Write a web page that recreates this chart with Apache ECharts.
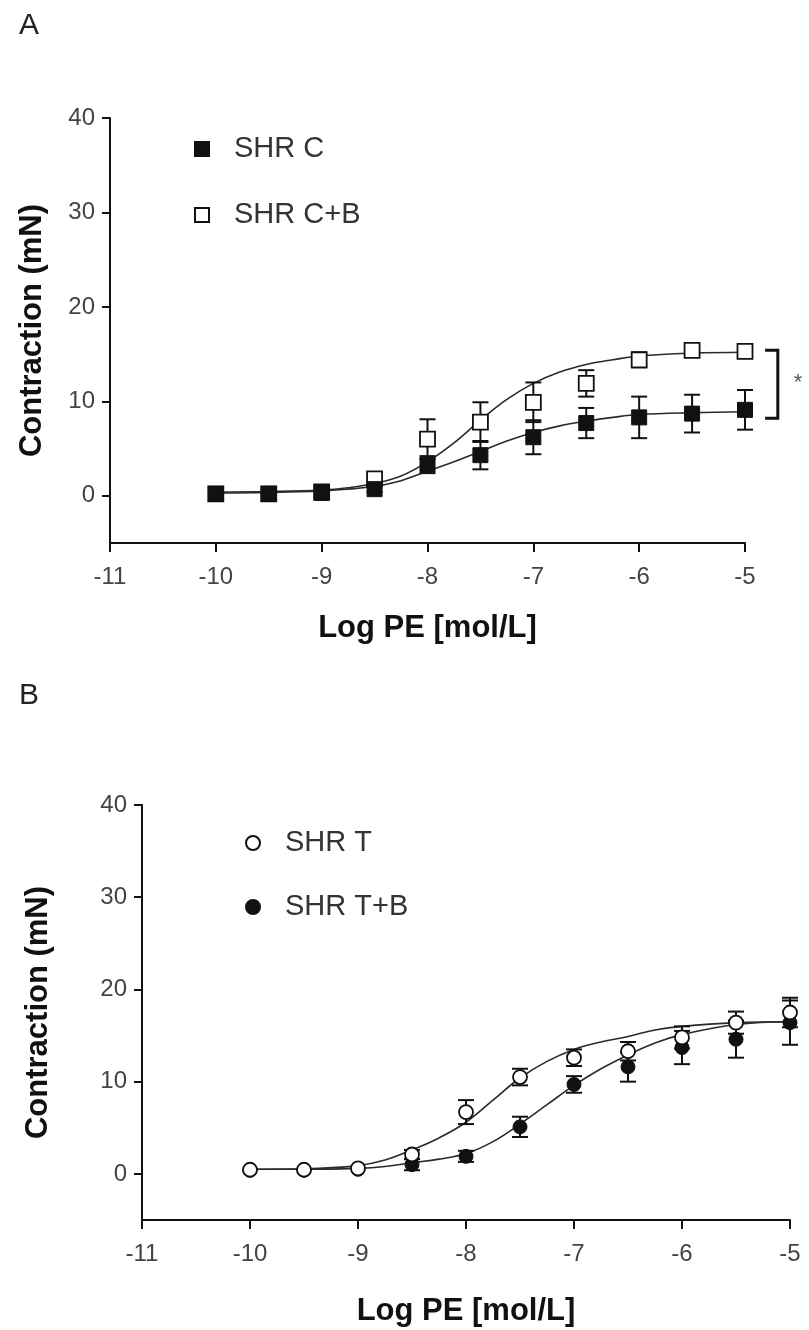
<!DOCTYPE html>
<html>
<head>
<meta charset="utf-8">
<script src="https://cdn.jsdelivr.net/npm/echarts@6/dist/echarts.min.js"></script>
<style>
  html, body { margin: 0; padding: 0; background: #fff; }
  #chart { width: 809px; height: 1330px; }
</style>
</head>
<body>
<div id="chart"></div>
<script>
// doses (Log PE, mol/L)
const logPE = [-10, -9.5, -9, -8.5, -8, -7.5, -7, -6.5, -6, -5.5, -5];
const yTicks = [0, 10, 20, 30, 40];

// panel A: means and SEM
const shrC = [0.2, 0.2, 0.3, 0.7, 3.3, 4.3, 6.2, 7.7, 8.3, 8.7, 9.1];
const shrCErr = [0, 0, 0, 0.3, 0.9, 1.5, 1.8, 1.6, 2.2, 2.0, 2.1];
const shrCB = [0.2, 0.2, 0.4, 1.8, 6.0, 7.8, 9.9, 11.9, 14.4, 15.4, 15.3];
const shrCBErr = [0, 0, 0, 0.6, 2.1, 2.1, 2.1, 1.4, 0.8, 0.4, 0.4];

// panel B: means and SEM
const shrT = [0.45, 0.45, 0.6, 2.1, 6.7, 10.5, 12.6, 13.3, 14.8, 16.4, 17.5];
const shrTErr = [0, 0, 0, 0.5, 1.3, 0.9, 0.9, 1.0, 1.2, 1.2, 1.6];
const shrTB = [0.4, 0.4, 0.5, 1.0, 1.9, 5.1, 9.7, 11.6, 13.7, 14.6, 16.4];
const shrTBErr = [0, 0, 0, 0.6, 0.6, 1.1, 0.9, 1.6, 1.8, 2.0, 2.4];

// fitted curves
const fitX = [-10, -9.5, -9, -8.75, -8.5, -8.25, -8, -7.75, -7.5, -7.25, -7, -6.75, -6.5, -6.25, -6, -5.5, -5];
const fitC = [0.3, 0.35, 0.5, 0.7, 1.0, 1.6, 2.6, 3.6, 4.7, 5.8, 6.7, 7.4, 7.9, 8.3, 8.6, 8.8, 8.9];
const fitCB = [0.4, 0.45, 0.6, 0.85, 1.3, 2.1, 3.6, 5.6, 8.0, 10.2, 11.9, 13.1, 13.9, 14.4, 14.8, 15.1, 15.2];
const fitT = [0.5, 0.55, 0.9, 1.5, 2.6, 3.9, 5.6, 8.0, 10.4, 12.2, 13.5, 14.3, 14.9, 15.6, 16.0, 16.4, 16.5];
const fitTB = [0.5, 0.5, 0.6, 0.8, 1.2, 1.6, 2.2, 3.5, 5.4, 7.5, 9.6, 11.4, 12.9, 14.2, 15.1, 16.2, 16.5];

// significance bracket in panel A
const bracketX = [-4.81, -4.69];
const bracketY = [15.4, 8.2];
const starPos = [-4.5, 12.0];

const FONT = "'Liberation Sans', Arial, sans-serif";
const INK = '#111';

const pairs = (xs, ys) => xs.map((x, i) => [x, ys[i]]);

function errorBars(name, idx, ys, errs) {
    const data = [];
    logPE.forEach((x, i) => {
        if (errs[i] > 0) data.push([x, ys[i] - errs[i], ys[i] + errs[i]]);
    });
    return {
        name: name,
        type: 'custom',
        xAxisIndex: idx,
        yAxisIndex: idx,
        silent: true,
        z: 3,
        data: data,
        renderItem: (params, api) => {
            const x = api.value(0);
            const top = api.coord([x, api.value(2)]);
            const bot = api.coord([x, api.value(1)]);
            const hw = 8;
            const st = { stroke: INK, lineWidth: 2 };
            return {
                type: 'group',
                children: [
                    { type: 'line', shape: { x1: top[0], y1: top[1], x2: bot[0], y2: bot[1] }, style: st },
                    { type: 'line', shape: { x1: top[0] - hw, y1: top[1], x2: top[0] + hw, y2: top[1] }, style: st },
                    { type: 'line', shape: { x1: bot[0] - hw, y1: bot[1], x2: bot[0] + hw, y2: bot[1] }, style: st }
                ]
            };
        }
    };
}

function curve(name, idx, ys) {
    return {
        name: name,
        type: 'line',
        xAxisIndex: idx,
        yAxisIndex: idx,
        data: pairs(fitX, ys),
        smooth: 0.4,
        showSymbol: false,
        silent: true,
        z: 2,
        lineStyle: { color: '#2a2a2a', width: 1.6 }
    };
}

function points(name, idx, ys, symbol, size, open) {
    return {
        name: name,
        type: 'scatter',
        xAxisIndex: idx,
        yAxisIndex: idx,
        data: pairs(logPE, ys),
        symbol: symbol,
        symbolSize: size,
        z: 5,
        emphasis: { disabled: true },
        itemStyle: open
            ? { color: '#fff', borderColor: INK, borderWidth: 1.8, opacity: 1 }
            : { color: INK, borderColor: INK, borderWidth: 1, opacity: 1 }
    };
}

function xAxis(idx) {
    return {
        type: 'value',
        gridIndex: idx,
        min: -11,
        max: -5,
        interval: 1,
        name: 'Log PE [mol/L]',
        nameLocation: 'middle',
        nameGap: idx === 0 ? 70 : 76,
        nameTextStyle: { fontFamily: FONT, fontSize: 31, fontWeight: 'bold', color: '#111' },
        axisLine: { onZero: false, lineStyle: { color: INK, width: 2 } },
        axisTick: { length: 9, lineStyle: { color: INK, width: 2 } },
        axisLabel: { fontFamily: FONT, fontSize: 24, color: '#444', margin: 22 },
        splitLine: { show: false }
    };
}

function yAxis(idx) {
    return {
        type: 'value',
        gridIndex: idx,
        min: -5,
        max: 40,
        name: 'Contraction (mN)',
        nameLocation: 'middle',
        nameRotate: 90,
        nameGap: idx === 0 ? 62 : 88,
        nameTextStyle: { fontFamily: FONT, fontSize: 31, fontWeight: 'bold', color: '#111' },
        axisLine: { show: true, onZero: false, lineStyle: { color: INK, width: 2 } },
        axisTick: { show: true, length: 8, customValues: yTicks, lineStyle: { color: INK, width: 2 } },
        axisLabel: { fontFamily: FONT, fontSize: 24, color: '#444', margin: 15, customValues: yTicks },
        splitLine: { show: false }
    };
}

const legendText = { fontFamily: FONT, fontSize: 29, color: '#333', lineHeight: 34, padding: [0, 0, 0, 20] };

const chart = echarts.init(document.getElementById('chart'), null, { renderer: 'canvas' });
chart.setOption({
    backgroundColor: '#fff',
    animation: false,
    title: [
        { text: 'A', left: 14, top: 6, textStyle: { fontFamily: FONT, fontSize: 30, fontWeight: 'normal', color: '#222' } },
        { text: 'B', left: 14, top: 676, textStyle: { fontFamily: FONT, fontSize: 30, fontWeight: 'normal', color: '#222' } }
    ],
    legend: [
        {
            data: ['SHR C', 'SHR C+B'],
            orient: 'vertical',
            left: 189,
            top: 127,
            itemWidth: 14,
            itemHeight: 14,
            itemGap: 32,
            selectedMode: false,
            textStyle: legendText
        },
        {
            data: ['SHR T', 'SHR T+B'],
            orient: 'vertical',
            left: 240,
            top: 821,
            itemWidth: 14,
            itemHeight: 14,
            itemGap: 30,
            selectedMode: false,
            textStyle: legendText
        }
    ],
    grid: [
        { left: 110, top: 118, width: 635, height: 425 },
        { left: 142, top: 805, width: 648, height: 415 }
    ],
    xAxis: [xAxis(0), xAxis(1)],
    yAxis: [yAxis(0), yAxis(1)],
    series: [
        curve('fit C', 0, fitC),
        curve('fit C+B', 0, fitCB),
        errorBars('err C', 0, shrC, shrCErr),
        errorBars('err C+B', 0, shrCB, shrCBErr),
        points('SHR C+B', 0, shrCB, 'rect', 15, true),
        points('SHR C', 0, shrC, 'rect', 15, false),
        {
            name: 'bracket',
            type: 'custom',
            xAxisIndex: 0,
            yAxisIndex: 0,
            silent: true,
            clip: false,
            data: [[bracketX[0], bracketX[1], bracketY[0], bracketY[1], starPos[0], starPos[1]]],
            renderItem: (params, api) => {
                const a = api.coord([api.value(0), api.value(2)]);
                const b = api.coord([api.value(1), api.value(3)]);
                const s = api.coord([api.value(4), api.value(5)]);
                return {
                    type: 'group',
                    children: [
                        {
                            type: 'polyline',
                            shape: { points: [[a[0], a[1]], [b[0], a[1]], [b[0], b[1]], [a[0], b[1]]] },
                            style: { stroke: INK, lineWidth: 3, fill: null }
                        },
                        {
                            type: 'text',
                            x: s[0],
                            y: s[1],
                            style: { text: '*', fontFamily: FONT, fontSize: 22, fill: '#555', align: 'center', verticalAlign: 'middle' }
                        }
                    ]
                };
            }
        },
        curve('fit T', 1, fitT),
        curve('fit T+B', 1, fitTB),
        errorBars('err T', 1, shrT, shrTErr),
        errorBars('err T+B', 1, shrTB, shrTBErr),
        points('SHR T+B', 1, shrTB, 'circle', 14, false),
        points('SHR T', 1, shrT, 'circle', 14, true)
    ]
});
</script>
</body>
</html>
